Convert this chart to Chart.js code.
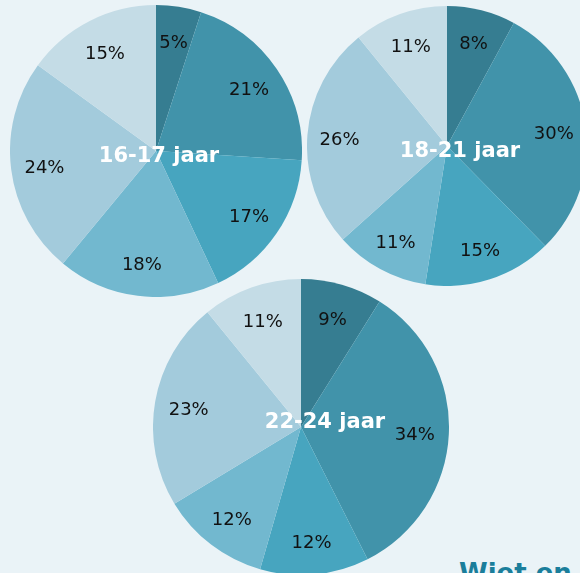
<!DOCTYPE html>
<html>
<head>
<meta charset="utf-8">
<script src="https://cdn.jsdelivr.net/npm/chart.js@4"></script>
<style>
  html, body { margin: 0; padding: 0; }
  body {
    width: 580px; height: 573px; overflow: hidden; position: relative;
    background: #eaf3f7; font-family: "DejaVu Sans", Verdana, sans-serif;
  }
  canvas { position: absolute; }
  #c1 { left: 10px; top: 5px; }
  #c2 { left: 307px; top: 6px; }
  #c3 { left: 153px; top: 279px; }
  .tail {
    position: absolute; left: 459px; top: 558px;
    font: bold 26px "DejaVu Sans", sans-serif; color: #1a7e9b; white-space: nowrap;
  }
</style>
</head>
<body>
<canvas id="c1" width="292" height="292"></canvas>
<canvas id="c2" width="280" height="280"></canvas>
<canvas id="c3" width="296" height="296"></canvas>
<div class="tail">Wiet en</div>
<script>
// shares per age group, clockwise from 12 o'clock
const ageGroups = ["16-17 jaar", "18-21 jaar", "22-24 jaar"];
const share1617 = [5, 21, 17, 18, 24, 15];
const share1821 = [8, 30, 15, 11, 26, 11];
const share2224 = [9, 34, 12, 12, 23, 11];

const sliceColors = ["#367d91", "#4193aa", "#47a5bf", "#72b8cf", "#a3cbdc", "#c4dce6"];

// percent labels inside slices + white title in the middle
const pieLabels = {
  id: "pieLabels",
  afterDatasetsDraw(chart, args, opts) {
    const ctx = chart.ctx;
    const meta = chart.getDatasetMeta(0);
    const values = chart.data.datasets[0].data;
    ctx.save();
    ctx.textAlign = "center";
    ctx.textBaseline = "middle";
    ctx.fillStyle = "#111";
    ctx.font = "18px 'DejaVu Sans'";
    meta.data.forEach((arc, i) => {
      const p = arc.getProps(["x", "y", "startAngle", "endAngle", "outerRadius"], true);
      const mid = (p.startAngle + p.endAngle) / 2;
      const r = p.outerRadius * 0.77;
      ctx.fillText(values[i] + "%", p.x + Math.cos(mid) * r, p.y + Math.sin(mid) * r + 3);
    });
    const a = meta.data[0];
    ctx.fillStyle = "#fff";
    ctx.font = "bold 21px 'DejaVu Sans'";
    ctx.fillText(opts.title, a.x + opts.dx, a.y + opts.dy);
    ctx.restore();
  }
};

function makePie(id, values, title, dx, dy) {
  new Chart(document.getElementById(id), {
    type: "pie",
    data: {
      labels: values.map((v, i) => "s" + i),
      datasets: [{ data: values, backgroundColor: sliceColors, borderWidth: 0 }]
    },
    options: {
      responsive: false,
      animation: false,
      layout: { padding: 0 },
      plugins: {
        legend: { display: false },
        tooltip: { enabled: false },
        pieLabels: { title: title, dx: dx, dy: dy }
      }
    },
    plugins: [pieLabels]
  });
}

makePie("c1", share1617, ageGroups[0], 3, 6);
makePie("c2", share1821, ageGroups[1], 13, 6);
makePie("c3", share2224, ageGroups[2], 24, -4);
</script>
</body>
</html>
